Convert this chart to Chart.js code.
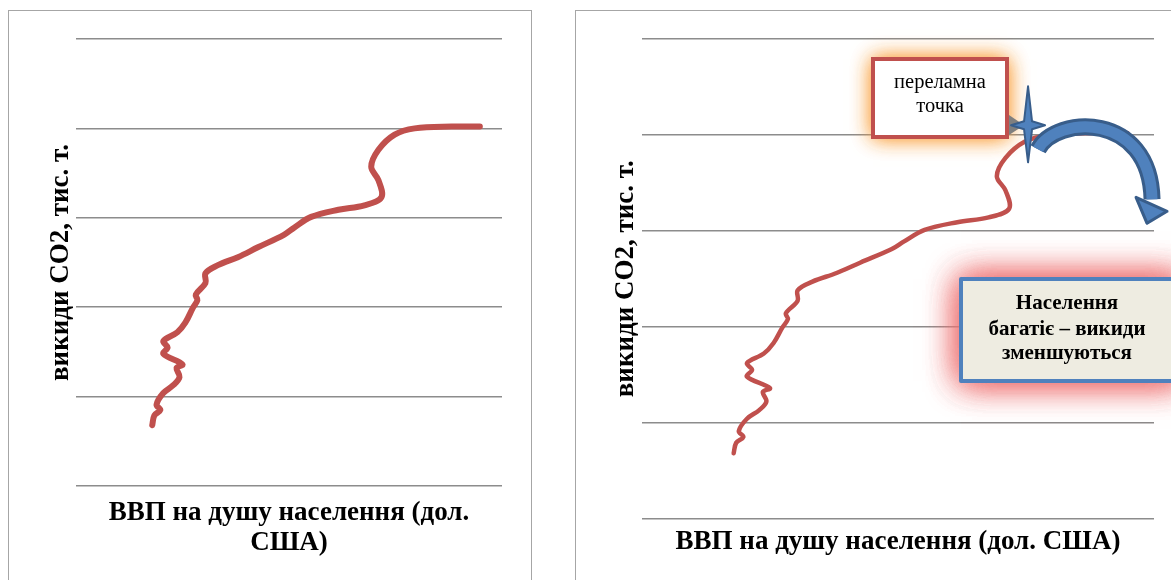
<!DOCTYPE html>
<html>
<head>
<meta charset="utf-8">
<script src="https://cdn.jsdelivr.net/npm/chart.js@4.4.0/dist/chart.umd.min.js"></script>
<style>
body { margin: 0; background: #fff; width: 1171px; height: 580px; overflow: hidden; position: relative; }
.frame { position: absolute; top: 10px; border: 1px solid #a6a6a6; border-bottom: none; background: #fff; }
#f1 { left: 8px; width: 522px; height: 570px; }
#f2 { left: 575px; width: 600px; height: 570px; border-right: none; }
canvas { display: block; }
</style>
</head>
<body>
<div class="frame" id="f1"><canvas id="c1" width="522" height="570"></canvas></div>
<div class="frame" id="f2"><canvas id="c2" width="595" height="570"></canvas></div>
<script>
// ВВП на душу населення (умовні одиниці осі X)
var gdp = [17.9, 18.4, 19.8, 18.9, 20.5, 22.9, 24.3, 23.6, 25.0, 20.5, 21.5, 20.5, 23.8, 25.7, 27.4, 28.5, 28.1,
           30.4, 30.4, 33.3, 38.0, 42.7, 48.8, 51.2, 55.2, 61.6, 67.7, 71.7, 71.0, 69.3, 71.0, 74.8, 79.5, 88.2, 94.8];
// викиди CO2 (умовні одиниці осі Y)
var co2 = [0.68, 0.79, 0.85, 0.91, 1.04, 1.13, 1.22, 1.32, 1.36, 1.48, 1.55, 1.62, 1.72, 1.83, 1.99, 2.08, 2.14,
           2.27, 2.38, 2.47, 2.56, 2.67, 2.81, 2.89, 3.01, 3.09, 3.14, 3.23, 3.42, 3.57, 3.76, 3.93, 4.00, 4.02, 4.02];
var yTicks = [0, 1, 2, 3, 4, 5];
var yTitle = 'викиди CO2, тис. т.';
var turningPoint = [75.4, 4.1];

var serif = '"Liberation Serif", "Times New Roman", serif';
var titleFont = { family: serif, size: 27, weight: 'bold', lineHeight: 1.11 };

// підписи та стрілки на правому графіку
var notes = {
    id: 'notes',
    afterDraw: function(chart) {
        var ctx = chart.ctx;
        var sx = chart.scales.x.getPixelForValue(turningPoint[0]);
        var sy = chart.scales.y.getPixelForValue(turningPoint[1]);
        ctx.save();

        // переламна точка - box with orange glow
        ctx.shadowColor = 'rgba(250,160,60,0.95)';
        ctx.shadowBlur = 20;
        ctx.fillStyle = '#fff';
        ctx.fillRect(297, 48, 134, 78);
        ctx.fillRect(297, 48, 134, 78);
        ctx.shadowBlur = 0;
        ctx.shadowColor = 'transparent';
        ctx.strokeStyle = '#C0504D';
        ctx.lineWidth = 4;
        ctx.strokeRect(297, 48, 134, 78);
        ctx.fillStyle = '#000';
        ctx.font = '20.5px ' + serif;
        ctx.textAlign = 'center';
        ctx.textBaseline = 'middle';
        ctx.fillText('переламна', 364, 72);
        ctx.fillText('точка', 364, 96);

        // callout pointer
        ctx.fillStyle = '#7f7f7f';
        ctx.beginPath();
        ctx.moveTo(433, 104);
        ctx.lineTo(433, 124);
        ctx.lineTo(sx - 4, sy);
        ctx.closePath();
        ctx.fill();

        // curved arrow
        ctx.lineCap = 'butt';
        ctx.beginPath();
        ctx.moveTo(sx + 10, sy + 24);
        ctx.bezierCurveTo(sx + 28, sy - 10, sx + 122, sy - 14, sx + 124, sy + 74);
        ctx.strokeStyle = '#385D8A';
        ctx.lineWidth = 17;
        ctx.stroke();
        ctx.strokeStyle = '#4F81BD';
        ctx.lineWidth = 11;
        ctx.stroke();
        ctx.beginPath();
        ctx.moveTo(sx + 139, sy + 86);
        ctx.lineTo(sx + 119, sy + 98);
        ctx.lineTo(sx + 108, sy + 72);
        ctx.closePath();
        ctx.fillStyle = '#4F81BD';
        ctx.fill();
        ctx.strokeStyle = '#385D8A';
        ctx.lineWidth = 3;
        ctx.lineJoin = 'round';
        ctx.stroke();

        // four-point star
        ctx.beginPath();
        ctx.moveTo(sx, sy - 39);
        ctx.lineTo(sx + 4, sy - 4);
        ctx.lineTo(sx + 17, sy);
        ctx.lineTo(sx + 4, sy + 4);
        ctx.lineTo(sx, sy + 37);
        ctx.lineTo(sx - 4, sy + 4);
        ctx.lineTo(sx - 17, sy);
        ctx.lineTo(sx - 4, sy - 4);
        ctx.closePath();
        ctx.fillStyle = '#4F81BD';
        ctx.fill();
        ctx.strokeStyle = '#385D8A';
        ctx.lineWidth = 2;
        ctx.stroke();

        // Населення багатіє - box with pink glow
        ctx.shadowColor = 'rgba(238,115,115,0.9)';
        ctx.shadowBlur = 32;
        ctx.fillStyle = '#EEECE1';
        ctx.fillRect(385, 268, 220, 102);
        ctx.fillRect(385, 268, 220, 102);
        ctx.fillRect(385, 268, 220, 102);
        ctx.shadowBlur = 0;
        ctx.shadowColor = 'transparent';
        ctx.strokeStyle = '#4F81BD';
        ctx.lineWidth = 4;
        ctx.strokeRect(385, 268, 220, 102);
        ctx.fillStyle = '#000';
        ctx.font = 'bold 21px ' + serif;
        ctx.fillText('Населення', 491, 293);
        ctx.fillText('багатіє – викиди', 491, 319);
        ctx.fillText('зменшуються', 491, 343);

        ctx.restore();
    }
};

function buildChart(id, cfg) {
    return new Chart(document.getElementById(id), {
        type: 'scatter',
        data: {
            datasets: [{
                data: gdp.map((x, i) => ({ x: x, y: co2[i] })),
                showLine: true,
                borderColor: '#C0504D',
                borderWidth: cfg.lw,
                tension: 0.35,
                pointRadius: 0,
                borderCapStyle: 'round',
                borderJoinStyle: 'round',
                fill: false
            }]
        },
        options: {
            responsive: false,
            animation: false,
            devicePixelRatio: 1,
            layout: { padding: cfg.pad },
            plugins: { legend: { display: false }, tooltip: { enabled: false } },
            scales: {
                x: {
                    min: 0, max: 100,
                    ticks: { display: false },
                    grid: { display: false },
                    border: { display: false },
                    title: { display: true, text: cfg.xTitle, font: titleFont, color: '#000', padding: 0 },
                    afterFit: function(s) { s.height = cfg.xh; }
                },
                y: {
                    min: yTicks[0], max: yTicks[yTicks.length - 1],
                    afterBuildTicks: function(s) { s.ticks = yTicks.map(v => ({ value: v })); },
                    ticks: { display: false },
                    grid: { color: '#8c8c8c', lineWidth: 1.5, drawTicks: false },
                    border: { display: false },
                    title: { display: true, text: yTitle, font: titleFont, color: '#000', padding: { top: cfg.ytp, bottom: 0 } },
                    afterFit: function(s) { s.width = cfg.yw; }
                }
            }
        },
        plugins: cfg.plugins || []
    });
}

buildChart('c1', {
    lw: 6,
    pad: { left: 30, right: 29, top: 28, bottom: 23 },
    xh: 72, yw: 37, ytp: 7,
    xTitle: ['ВВП на душу населення (дол.', 'США)']
});

buildChart('c2', {
    lw: 4.5,
    pad: { left: 28, right: 17, top: 28, bottom: 24 },
    xh: 38.5, yw: 38, ytp: 7,
    xTitle: 'ВВП на душу населення (дол. США)',
    plugins: [notes]
});
</script>
</body>
</html>
